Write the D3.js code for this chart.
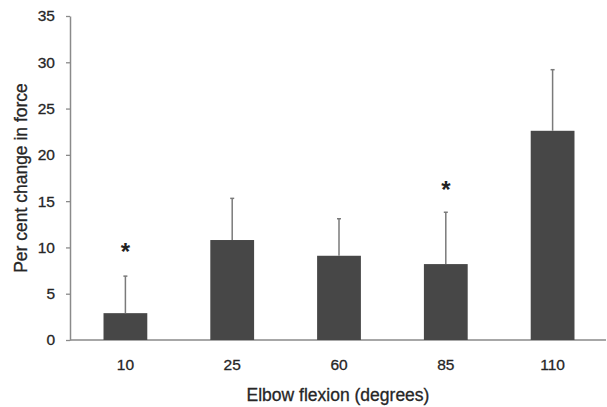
<!DOCTYPE html>
<html>
<head>
<meta charset="utf-8">
<script src="https://cdn.jsdelivr.net/npm/d3@7"></script>
<style>
    body { margin: 0; background: #fff; }
    text { font-family: "Liberation Sans", Arial, sans-serif; }
</style>
</head>
<body>
<div id="chart"></div>
<script>
var angles = ["10", "25", "60", "85", "110"]
var means = [2.9, 10.8, 9.1, 8.2, 22.6]
var upper = [6.9, 15.3, 13.1, 13.8, 29.2]
var stars = [9.9, null, null, 16.6, null]
var yTicks = [0, 5, 10, 15, 20, 25, 30, 35]

var width = 607
var height = 407
var margin = {top: 16, right: 1, bottom: 67, left: 70}

var data = angles.map(function(a, i){
    return {angle: a, mean: means[i], upper: upper[i], star: stars[i]}
})

var svg = d3.select("#chart")
    .append("svg")
        .attr("width", width)
        .attr("height", height)

// scales
var x = d3.scaleBand()
    .domain(angles)
    .range([margin.left + 2, width - margin.right])
    .paddingInner(0.59)
    .paddingOuter(0.295)

var y = d3.scaleLinear()
    .domain([0, 35])
    .range([height - margin.bottom, margin.top])

var axisColor = "#8a8a8a"
var textColor = "#262626"

// y axis
var yAxis = svg.append("g")
    .attr("transform", "translate(" + margin.left + ",0)")
    .call(d3.axisLeft(y).tickValues(yTicks).tickSize(4).tickSizeOuter(0).tickPadding(11))
yAxis.select(".domain").attr("stroke", axisColor).attr("stroke-width", 1.5)
yAxis.selectAll(".tick line").attr("stroke", axisColor).attr("stroke-width", 1.3)
yAxis.selectAll(".tick text")
    .attr("fill", textColor)
    .attr("stroke", textColor)
    .attr("stroke-width", 0.3)
    .style("font-size", "15.5px")

// x axis
var xAxis = svg.append("g")
    .attr("transform", "translate(0," + y(0) + ")")
    .call(d3.axisBottom(x).tickSize(0).tickPadding(19))
xAxis.select(".domain").remove()
xAxis.selectAll(".tick text")
    .attr("fill", textColor)
    .attr("stroke", textColor)
    .attr("stroke-width", 0.3)
    .style("font-size", "15.5px")

svg.append("line")
    .attr("x1", margin.left)
    .attr("x2", x.range()[1])
    .attr("y1", y(0))
    .attr("y2", y(0))
    .attr("stroke", axisColor)
    .attr("stroke-width", 1.5)

// bars
svg.append("g")
    .selectAll("rect")
    .data(data)
    .enter()
    .append("rect")
        .attr("x", d => x(d.angle))
        .attr("y", d => y(d.mean))
        .attr("width", x.bandwidth())
        .attr("height", d => y(0) - y(d.mean))
        .attr("fill", "#474747")

// error bars (upper only)
var err = svg.append("g")
    .selectAll("g")
    .data(data)
    .enter()
    .append("g")
err.append("line")
    .attr("x1", d => x(d.angle) + x.bandwidth() / 2)
    .attr("x2", d => x(d.angle) + x.bandwidth() / 2)
    .attr("y1", d => y(d.mean))
    .attr("y2", d => y(d.upper))
    .attr("stroke", "#7a7a7a")
    .attr("stroke-width", 1.5)
err.append("line")
    .attr("x1", d => x(d.angle) + x.bandwidth() / 2 - 2)
    .attr("x2", d => x(d.angle) + x.bandwidth() / 2 + 2)
    .attr("y1", d => y(d.upper))
    .attr("y2", d => y(d.upper))
    .attr("stroke", "#7a7a7a")
    .attr("stroke-width", 1.5)

// significance stars
svg.append("g")
    .selectAll("text")
    .data(data.filter(d => d.star != null))
    .enter()
    .append("text")
        .attr("x", d => x(d.angle) + x.bandwidth() / 2)
        .attr("y", d => y(d.star) + 12)
        .attr("text-anchor", "middle")
        .style("font-size", "24px")
        .style("font-weight", "bold")
        .attr("fill", "#222")
        .text("*")

// axis titles
svg.append("text")
    .attr("x", (margin.left + x.range()[1]) / 2)
    .attr("y", 401)
    .attr("text-anchor", "middle")
    .style("font-size", "17.5px")
    .attr("fill", textColor)
    .attr("stroke", textColor)
    .attr("stroke-width", 0.3)
    .text("Elbow flexion (degrees)")

svg.append("text")
    .attr("transform", "translate(27," + y(17.5) + ") rotate(-90)")
    .attr("text-anchor", "middle")
    .style("font-size", "17.5px")
    .attr("fill", textColor)
    .attr("stroke", textColor)
    .attr("stroke-width", 0.3)
    .text("Per cent change in force")
</script>
</body>
</html>
